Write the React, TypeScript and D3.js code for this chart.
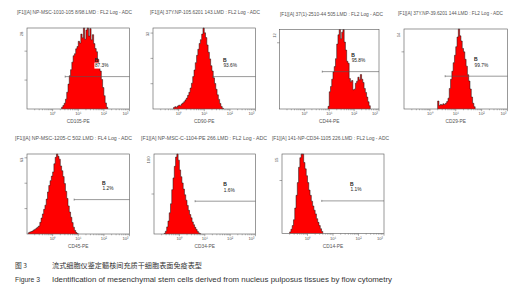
import React from 'react';
import * as d3 from 'd3';

// panel titles (instrument file names) and markers
const TITLES = [
  '[F1][A] NP-MSC-1010-105 8/98.LMD : FL2 Log - ADC',
  '[F1][A] 37Y.NP-105.6201 143.LMD : FL2 Log - ADC',
  '[F1][A] 37(1)-2510-44 505.LMD : FL2 Log - ADC',
  '[F1][A] 37Y.NP-39.6201 144.LMD : FL2 Log - ADC',
  '[F1][A] NP-MSC-1205-C 502.LMD : FL4 Log - ADC',
  '[F1][A] NP-MSC-C-1104-PE 266.LMD : FL2 Log - ADC',
  '[F1][A] 141-NP-CD34-1105 226.LMD : FL2 Log - ADC',
];
const MARKERS = ['CD105-PE', 'CD90-PE', 'CD44-PE', 'CD29-PE', 'CD45-PE', 'CD34-PE', 'CD14-PE'];
const Y_MAX = [28, 32, 12, 14, 63, 100, 15];
const Y_TICK_STEP = [10, 10, 10, 10, 20, 50, 10];
const X_TICKS = [1, 10, 100, 1000];
const X_TICK_LABELS = ['10⁰', '10¹', '10²', '10³'];

// histogram counts, bins of 0.05 decades starting at BIN_START (log10)
const BIN_STEP = 0.05;
const BIN_START = [0.35, -0.2, 0.95, 0.3, -0.95, -0.6, -0.7];
const COUNTS_CD105 = [0.6, 1.2, 2.0, 3.4, 5.8, 8.6, 11.5, 13.6, 16.2, 18.4, 19.1, 20.8, 21.6, 23.4, 22.8, 25.9, 24.6, 29, 24.1, 27.3, 29, 25.2, 27.8, 23.9, 25.7, 22.6, 20.9, 19.8, 17.2, 15.6, 13.1, 10.2, 7.4, 4.6, 2.1, 0.6];
const COUNTS_CD90 = [0.6, 0.9, 0.7, 1.2, 1.5, 1.3, 2.0, 2.4, 2.9, 3.6, 4.3, 5.4, 6.6, 8.3, 10.2, 12.8, 15.4, 18.3, 21.2, 23.6, 25.9, 27.4, 29.6, 32.5, 30.1, 28.2, 25.3, 22.4, 19.8, 17.1, 15.0, 12.3, 10.1, 7.8, 5.6, 3.8, 2.2, 1.0, 0.3];
const COUNTS_CD44 = [0.4, 2.6, 3.4, 4.5, 5.6, 6.4, 7.6, 9.8, 11.2, 12.5, 10.6, 11.6, 12.5, 10.1, 8.9, 7.2, 6.9, 4.6, 4.1, 4.3, 2.9, 3.0, 3.9, 4.2, 4.8, 4.4, 5.2, 4.5, 4.0, 3.1, 2.5, 1.8, 1.1, 0.5];
const COUNTS_CD29 = [1.4, 0.6, 0.8, 0.7, 0.9, 0.8, 1.0, 1.3, 1.9, 3.6, 5.2, 6.6, 8.1, 9.4, 10.9, 12.6, 14.2, 12.8, 11.9, 10.6, 10.0, 8.7, 7.5, 6.0, 4.9, 3.5, 2.1, 1.0, 0.4];
const COUNTS_CD45 = [1.0, 1.6, 1.9, 2.4, 3.2, 3.8, 4.6, 5.4, 6.3, 9.2, 12.6, 15.8, 19.4, 22.7, 27.5, 33.1, 38.2, 42.0, 45.6, 48.9, 55.3, 60.4, 63.5, 61.2, 58.9, 53.6, 49.8, 45.2, 39.7, 33.6, 28.0, 22.1, 17.3, 13.2, 9.0, 5.4, 2.8, 1.1, 0.3];
const COUNTS_CD34 = [0.8, 3.5, 8.9, 16.2, 26.5, 37.8, 55.4, 70.1, 84.6, 96.2, 101, 92.3, 80.1, 71.6, 63.8, 56.2, 49.0, 42.3, 35.7, 29.6, 24.4, 20.2, 15.1, 11.6, 8.3, 5.6, 3.2, 1.4, 0.4];
const COUNTS_CD14 = [0.3, 0.8, 1.5, 2.6, 4.8, 7.2, 9.6, 12.5, 14.3, 15.4, 15.4, 13.4, 12.2, 10.9, 9.6, 8.2, 7.2, 6.1, 5.2, 4.4, 3.7, 2.8, 2.1, 1.5, 0.9, 0.4];
const COUNTS = [COUNTS_CD105, COUNTS_CD90, COUNTS_CD44, COUNTS_CD29, COUNTS_CD45, COUNTS_CD34, COUNTS_CD14];

// region B: start (log10) and percentage
const GATE_FROM = [0.49, 1.34, 0.72, 0.59, 0.84, 0.62, 0.56];
const GATE_LABEL_AT = [1.63, 1.73, 1.88, 1.71, 1.93, 1.73, 1.67];
const GATE_PERCENT = ['87.3%', '93.6%', '95.8%', '99.7%', '1.2%', '1.6%', '1.1%'];

const CAPTION_CN = ['图 3', '流式细胞仪鉴定髓核间充质干细胞表面免疫表型'];
const CAPTION_EN = ['Figure 3', 'Identification of mesenchymal stem cells derived from nucleus pulposus tissues by flow cytometry'];

// frame layout: x, y, w, h, gate height (fraction), title x / width
const PANELS = [
  { x: 27, y: 28, w: 102.5, h: 81, gy: 0.40, tx: 17, tw: 115 },
  { x: 153, y: 28, w: 102.5, h: 81, gy: 0.40, tx: 150, tw: 110 },
  { x: 279.5, y: 29.5, w: 99.5, h: 79.5, gy: 0.47, tx: 280, tw: 103 },
  { x: 404, y: 29, w: 103.5, h: 80, gy: 0.41, tx: 398, tw: 105 },
  { x: 27, y: 154, w: 102.5, h: 80, gy: 0.43, tx: 15, tw: 117 },
  { x: 154, y: 154, w: 101.5, h: 80, gy: 0.41, tx: 141, tw: 126 },
  { x: 282, y: 154, w: 102, h: 79.5, gy: 0.41, tx: 272, tw: 117 },
];

const FONT = '"Liberation Sans", Arial, sans-serif';
const GREY = '#555';

function Panel({ i }: { i: number }) {
  const p = PANELS[i];
  const x = d3.scaleLog().domain([0.1, 1000]).range([p.x, p.x + p.w]);
  const y = d3.scaleLinear().domain([0, Y_MAX[i]]).range([p.y + p.h, p.y]).clamp(true);

  const counts = COUNTS[i];
  const pts: [number, number][] = [[Math.pow(10, BIN_START[i]), 0]];
  counts.forEach((c, k) => pts.push([Math.pow(10, BIN_START[i] + k * BIN_STEP), c]));
  pts.push([Math.pow(10, BIN_START[i] + counts.length * BIN_STEP), 0]);

  const area = d3.area<[number, number]>()
    .x(d => x(d[0]))
    .y0(y(0))
    .y1(d => y(d[1]))
    .curve(d3.curveStepAfter);
  const line = d3.line<[number, number]>()
    .x(d => x(d[0]))
    .y(d => y(d[1]))
    .curve(d3.curveStepAfter);

  const minor: number[] = [];
  for (let e = -1; e < 3; e++) {
    for (let m = 2; m <= 9; m++) minor.push(m * Math.pow(10, e));
  }
  const yTicks = d3.range(Y_TICK_STEP[i], Y_MAX[i], Y_TICK_STEP[i]);

  const bottom = p.y + p.h;
  const right = p.x + p.w;
  const gateY = p.y + p.h * (1 - p.gy);
  const gx0 = x(Math.pow(10, GATE_FROM[i]));
  const lx = x(Math.pow(10, GATE_LABEL_AT[i]));
  const pct = GATE_PERCENT[i];

  return (
    <g>
      <text x={p.tx} y={p.y - 14} fontSize={4.6} fill={GREY} textLength={p.tw} lengthAdjust="spacingAndGlyphs">
        {TITLES[i]}
      </text>
      <path d={area(pts) || ''} fill="#ff0000" />
      <path d={line(pts) || ''} fill="none" stroke="#111" strokeWidth={0.5} />
      <rect x={p.x} y={p.y} width={p.w} height={p.h} fill="none" stroke={GREY} strokeWidth={0.6} />
      {minor.map((m, k) => (
        <line key={'m' + k} x1={x(m)} x2={x(m)} y1={bottom} y2={bottom + 1.3} stroke={GREY} strokeWidth={0.4} />
      ))}
      {X_TICKS.map((t, k) => (
        <g key={'t' + k}>
          <line x1={x(t)} x2={x(t)} y1={bottom} y2={bottom + 2.2} stroke={GREY} strokeWidth={0.5} />
          <text x={k === X_TICKS.length - 1 ? x(t) - 1 : x(t)} y={bottom + 6}
            textAnchor={k === X_TICKS.length - 1 ? 'end' : 'middle'} fontSize={4.2} fill={GREY}>
            {X_TICK_LABELS[k]}
          </text>
        </g>
      ))}
      {yTicks.map((t, k) => (
        <line key={'y' + k} x1={p.x - 2.5} x2={p.x} y1={y(t)} y2={y(t)} stroke={GREY} strokeWidth={0.5} />
      ))}
      <text transform={`translate(${p.x - 4},${p.y + 6}) rotate(-90)`} textAnchor="middle" fontSize={4.2} fill={GREY}>
        {Y_MAX[i]}
      </text>
      <line x1={gx0} x2={right} y1={gateY} y2={gateY} stroke={GREY} strokeWidth={0.6} />
      <line x1={gx0} x2={gx0} y1={gateY - 1} y2={gateY + 1} stroke={GREY} strokeWidth={0.6} />
      <text x={lx} y={gateY - 15} fontSize={5} fontWeight="bold" fill="#222">B</text>
      <rect x={lx} y={gateY - 14} width={pct.length * 2.8 + 1} height={6} fill="#fff" />
      <text x={lx + 0.5} y={gateY - 9.5} fontSize={4.8} fill="#222">{pct}</text>
      <text x={p.x + p.w / 2} y={bottom + 14} textAnchor="middle" fontSize={4.8} fill={GREY}>
        {MARKERS[i]}
      </text>
    </g>
  );
}

export default function App() {
  return (
    <svg width={532} height={300} style={{ position: 'absolute', left: 0, top: 0, background: '#fff' }}
      fontFamily={FONT}>
      <rect width={532} height={300} fill="#fff" />
      {PANELS.map((_, i) => <Panel key={i} i={i} />)}
      <g fontFamily='"Noto Sans CJK SC", sans-serif' fontSize={6.8} fill="#333">
        <text x={15} y={268}>{CAPTION_CN[0]}</text>
        <text x={52} y={268} textLength={150} lengthAdjust="spacingAndGlyphs">{CAPTION_CN[1]}</text>
      </g>
      <g fontSize={6.8} fill="#333">
        <text x={15} y={282}>{CAPTION_EN[0]}</text>
        <text x={52} y={282} textLength={340} lengthAdjust="spacingAndGlyphs">{CAPTION_EN[1]}</text>
      </g>
    </svg>
  );
}
